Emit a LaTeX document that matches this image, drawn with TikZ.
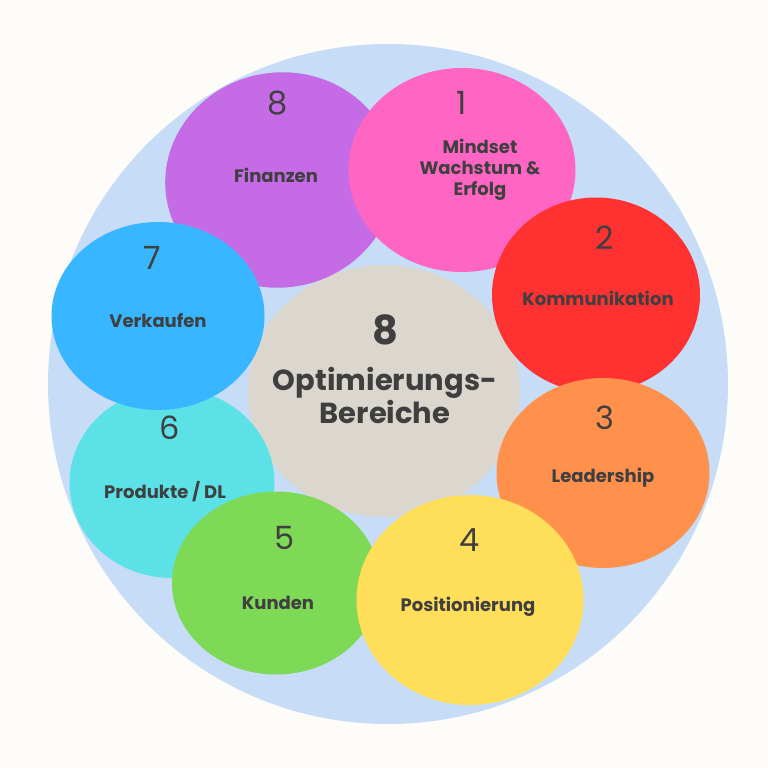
\documentclass[tikz,border=0pt]{standalone}
\usepackage{fontspec}
\setmainfont{Poppins}
\usetikzlibrary{shapes.geometric}
\definecolor{bgcream}{HTML}{FDFCF8}
\definecolor{ring}{HTML}{C6DCF7}
\definecolor{txt}{HTML}{3F3F3F}
\tikzset{blob/.style={ellipse, inner sep=0pt}}
\tikzset{num/.style={text=txt, font=\fontsize{32}{32}\selectfont}}
\tikzset{lbl/.style={text=txt, align=center, font=\bfseries\fontsize{18}{19}\selectfont}}

\begin{document}
\begin{tikzpicture}[x=1pt,y=-1pt]

\fill[bgcream] (0,0) rectangle (768,768);
\useasboundingbox (0,0) rectangle (768,768);

\node[blob, fill=ring, minimum size=680pt] (ringbg) at (388,384) { };

%center
\node[blob, fill={rgb,255:red,219;green,215;blue,206}, minimum width=272pt, minimum height=252pt] (mitte) at (384,391) { };
\node[text=txt, font=\bfseries\fontsize{40}{40}\selectfont] (mittenum) at (385,330) {8};
\node[lbl, font=\bfseries\fontsize{29}{33}\selectfont] (mittelbl) at (385,395) {Optimierungs-\\Bereiche};

%8 finanzen
\node[blob, fill={rgb,255:red,197;green,107;blue,230}, minimum width=230pt, minimum height=215pt, rotate=10] (finanzen) at (280,180) { };
\node[num] (n8) at (278,103) {8};
\node[lbl] (l8) at (276,175) {Finanzen};
%1 mindset
\node[blob, fill={rgb,255:red,255;green,102;blue,196}, minimum width=227pt, minimum height=204pt] (mindset) at (462,170) { };
\node[num] (n1) at (462,103) {1};
\node[lbl, font=\bfseries\fontsize{18}{21}\selectfont] (l1) at (480,170) {Mindset\\Wachstum \&\\Erfolg};
%2 kommunikation
\node[blob, fill={rgb,255:red,255;green,49;blue,49}, minimum width=208pt, minimum height=195pt] (kommunikation) at (596,295) { };
\node[num] (n2) at (605,238) {2};
\node[lbl] (l2) at (598,298) {Kommunikation};
%3 leadership
\node[blob, fill={rgb,255:red,255;green,145;blue,77}, minimum width=213pt, minimum height=190pt] (leadership) at (603,473) { };
\node[num] (n3) at (605,418) {3};
\node[lbl] (l3) at (603,478) {Leadership};
%6 produkte
\node[blob, fill={rgb,255:red,92;green,225;blue,230}, minimum width=205pt, minimum height=190pt] (produkte) at (172,483) { };
\node[num] (n6) at (170,428) {6};
\node[lbl] (l6) at (165,492) {Produkte / DL};
%7 verkaufen
\node[blob, fill={rgb,255:red,56;green,182;blue,255}, minimum width=213pt, minimum height=188pt] (verkaufen) at (158,316) { };
\node[num] (n7) at (152,258) {7};
\node[lbl] (l7) at (158,321) {Verkaufen};
%5 kunden
\node[blob, fill={rgb,255:red,126;green,217;blue,87}, minimum width=208pt, minimum height=183pt] (kunden) at (276,583) { };
\node[num] (n5) at (285,538) {5};
\node[lbl] (l5) at (278,603) {Kunden};
%4 positionierung
\node[blob, fill={rgb,255:red,255;green,222;blue,89}, minimum width=227pt, minimum height=210pt] (positionierung) at (470,600) { };
\node[num] (n4) at (470,540) {4};
\node[lbl] (l4) at (468,607) {Positionierung};

\end{tikzpicture}
\end{document}
